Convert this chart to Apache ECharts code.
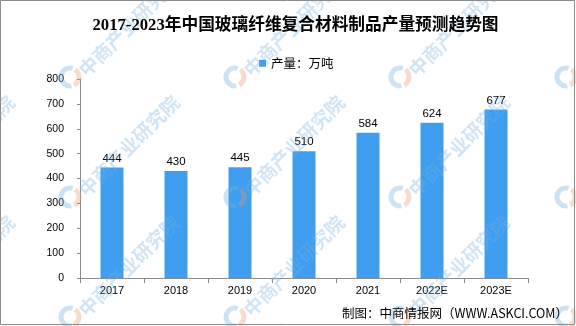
<!DOCTYPE html>
<html>
<head>
<meta charset="utf-8">
<script src="https://cdn.jsdelivr.net/npm/echarts@6/dist/echarts.min.js"></script>
<style>html,body{margin:0;padding:0;background:#fff}#c{width:576px;height:326px}</style>
</head>
<body>
<div id="c"></div>
<script>
var categories = ['2017','2018','2019','2020','2021','2022E','2023E'];
var production = [444, 430, 445, 510, 584, 624, 677];
var yTicks = [0,100,200,300,400,500,600,700,800];
var titleText = '2017-2023年中国玻璃纤维复合材料制品产量预测趋势图';
var seriesName = '产量：万吨';
var sourceText = '制图：中商情报网（WWW.ASKCI.COM）';
var watermarkText = '中商产业研究院';

var chart = echarts.init(document.getElementById('c'), null, {renderer:'canvas'});

var graphics = [];
// watermark tiles
var wmCols = [-95, 70, 235, 400, 566];
var wmRows = [77, 197, 317];
wmRows.forEach(function(wy){
  wmCols.forEach(function(wx){
    graphics.push({type:'arc', z:100, silent:true,
      shape:{cx:wx, cy:wy, r:9, startAngle:Math.PI*0.45, endAngle:Math.PI*1.6},
      style:{stroke:'rgba(110,175,225,0.35)', lineWidth:5, fill:null}});
    graphics.push({type:'arc', z:100, silent:true,
      shape:{cx:wx, cy:wy, r:9, startAngle:Math.PI*1.7, endAngle:Math.PI*2.35},
      style:{stroke:'rgba(240,150,110,0.35)', lineWidth:5, fill:null}});
    graphics.push({type:'text', z:100, silent:true, x:wx+12, y:wy-4, rotation:Math.PI/4,
      style:{text:watermarkText, fill:'rgba(110,175,225,0.33)', font:'bold 19px "Noto Sans CJK SC"', textAlign:'left', textVerticalAlign:'middle'}});
  });
});
// frame
graphics.push({type:'rect', z:101, silent:true, shape:{x:0.5,y:0.5,width:574,height:324},
  style:{stroke:'#8c8c8c', lineWidth:1, fill:null}});
// title
graphics.push({type:'text', z:102, x:295.5, y:26,
  style:{text:titleText, fill:'#000', font:'bold 16.7px "Liberation Serif","Noto Sans CJK SC"', textAlign:'center', textVerticalAlign:'middle'}});
// source
graphics.push({type:'text', z:102, x:568, y:313,
  style:{text:sourceText, fill:'#000', font:'12.5px "Noto Sans CJK SC"', textAlign:'right', textVerticalAlign:'middle'}});

chart.setOption({
  animation:false,
  backgroundColor:'#fff',
  legend:{data:[seriesName], top:52, left:254, itemWidth:7, itemHeight:7, itemGap:4,
    icon:'rect', textStyle:{fontFamily:'"Noto Sans CJK SC"', fontSize:12.5, color:'#000'}},
  grid:{left:80, right:48, top:79, bottom:48, containLabel:false},
  xAxis:{type:'category', data:categories,
    axisLine:{lineStyle:{color:'#8a8a8a'}},
    axisTick:{show:true, length:5, lineStyle:{color:'#8a8a8a'}},
    axisLabel:{color:'#000', fontSize:11, fontFamily:'"Liberation Sans"', margin:7}},
  yAxis:{type:'value', min:0, max:800, interval:100,
    axisLine:{show:true, lineStyle:{color:'#8a8a8a'}},
    axisTick:{show:true, length:3, lineStyle:{color:'#8a8a8a'}},
    splitLine:{show:false},
    axisLabel:{color:'#000', fontSize:10.5, fontFamily:'"Liberation Sans"', margin:16}},
  series:[{name:seriesName, type:'bar', data:production, barWidth:23,
    itemStyle:{color:'#409EF0'},
    label:{show:true, position:'top', distance:3, color:'#000', fontSize:11.5, fontFamily:'"Liberation Sans"'}}],
  graphic:graphics
});
</script>
</body>
</html>
